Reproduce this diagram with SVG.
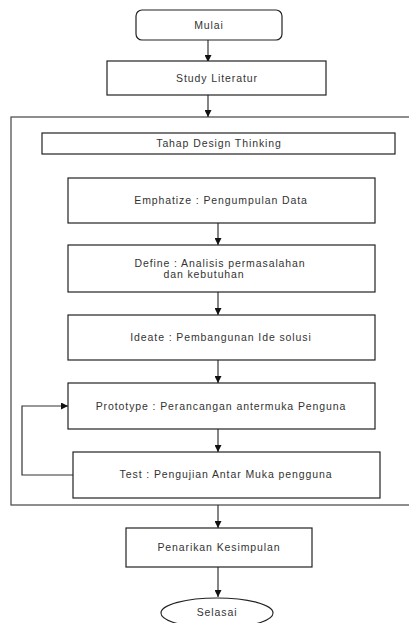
<svg xmlns="http://www.w3.org/2000/svg" width="409" height="623" viewBox="0 0 409 623">
<defs>
<style>
.box{fill:#fff;stroke:#222;stroke-width:1.2}
.frame{fill:none;stroke:#444;stroke-width:1.2}
.t{font-family:"Liberation Sans",Arial,sans-serif;font-size:10.5px;letter-spacing:0.9px;fill:#333;text-anchor:middle}
.c{fill:none;stroke:#333;stroke-width:1.2}
</style>
<marker id="ah" viewBox="0 0 10 10" refX="10" refY="5" markerWidth="7" markerHeight="7" markerUnits="userSpaceOnUse" orient="auto">
<path d="M0,0 L10,5 L0,10 Z" fill="#111"/>
</marker>
</defs>
<rect id="container" class="frame" x="11" y="117" width="410" height="388"/>
<g id="connectors">
<path class="c" d="M208 40 V62" marker-end="url(#ah)"/>
<path class="c" d="M208 95 V117" marker-end="url(#ah)"/>
<path class="c" d="M218 223 V245" marker-end="url(#ah)"/>
<path class="c" d="M218 292 V315" marker-end="url(#ah)"/>
<path class="c" d="M218 360 V383" marker-end="url(#ah)"/>
<path class="c" d="M218 429 V452" marker-end="url(#ah)"/>
<path class="c" d="M73 475 H22 V406 H68" marker-end="url(#ah)"/>
<path class="c" d="M218 505 V528" marker-end="url(#ah)"/>
<path class="c" d="M218 567 V597" marker-end="url(#ah)"/>
</g>
<g id="mulai">
<rect class="box" x="136" y="10" width="146" height="30" rx="6"/>
<text class="t" x="209" y="29">Mulai</text>
</g>
<g id="study">
<rect class="box" x="107" y="61" width="219" height="34"/>
<text class="t" x="217" y="82">Study Literatur</text>
</g>
<g id="tahap">
<rect class="box" x="42" y="133" width="353" height="21"/>
<text class="t" x="219" y="147">Tahap Design Thinking</text>
</g>
<g id="emphatize">
<rect class="box" x="68" y="178" width="307" height="45"/>
<text class="t" x="221" y="204">Emphatize : Pengumpulan Data</text>
</g>
<g id="define">
<rect class="box" x="68" y="245" width="307" height="47"/>
<text class="t" x="220" y="267">Define : Analisis permasalahan</text>
<text class="t" x="204" y="278">dan kebutuhan</text>
</g>
<g id="ideate">
<rect class="box" x="68" y="315" width="307" height="45"/>
<text class="t" x="221" y="341">Ideate : Pembangunan Ide solusi</text>
</g>
<g id="prototype">
<rect class="box" x="68" y="383" width="307" height="46"/>
<text class="t" x="221" y="410">Prototype : Perancangan antermuka Penguna</text>
</g>
<g id="test">
<rect class="box" x="73" y="452" width="307" height="46"/>
<text class="t" x="226" y="478">Test : Pengujian Antar Muka pengguna</text>
</g>
<g id="penarikan">
<rect class="box" x="126" y="528" width="186" height="39"/>
<text class="t" x="219" y="551">Penarikan Kesimpulan</text>
</g>
<g id="selasai">
<ellipse class="box" cx="217" cy="613" rx="56" ry="15"/>
<text class="t" x="217" y="616">Selasai</text>
</g>
</svg>
